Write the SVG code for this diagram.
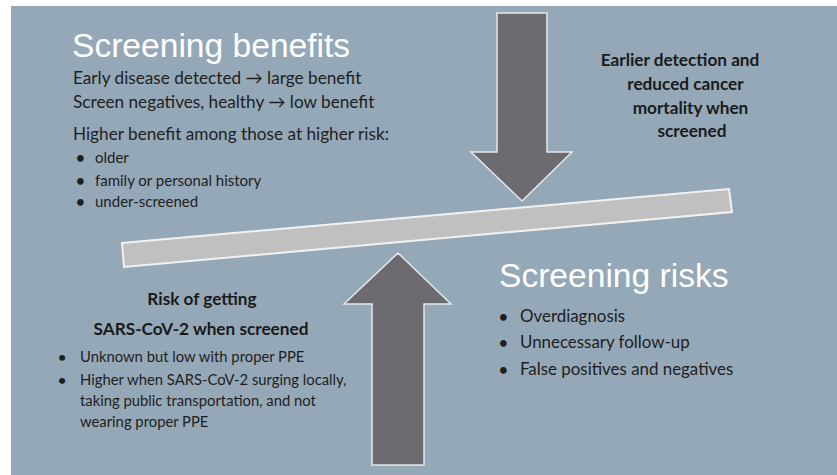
<svg xmlns="http://www.w3.org/2000/svg" width="837" height="475" viewBox="0 0 837 475">
  <style>
    .title { font-family: "Liberation Sans", Arial, sans-serif; font-size: 33.6px; fill: #ffffff; }
    .body { font-family: Lato, "Open Sans", sans-serif; fill: #1e1e1e; }
    .bold { font-family: Lato, "Open Sans", sans-serif; font-weight: bold; fill: #1a1a1a; font-size: 17.2px; text-anchor: middle; }
    .arrow { fill: #6b6b70; stroke: #e6e8ea; stroke-width: 1.5; stroke-linejoin: miter; }
    .beam { fill: #c0c0c0; stroke: #f2f2f2; stroke-width: 2; }
  </style>
  <rect x="0" y="0" width="837" height="475" fill="#ffffff"/>
  <rect id="background" x="11" y="6" width="826" height="469" fill="#95a8b7"/>

  <g id="beam">
    <polygon class="beam" points="122,243 729,189 732,212 124,267"/>
  </g>

  <g id="connectors">
    <polygon id="arrow-down" class="arrow" points="497,13 547,13 547,152 572,152 522,201 471,152 497,152"/>
    <polygon id="arrow-up" class="arrow" points="398,253 451,304 424,304 424,465 372,465 372,304 344,304"/>
  </g>

  <g id="benefits">
    <text class="title" x="72" y="57">Screening benefits</text>
    <text class="body" font-size="17.2" x="73" y="84">Early disease detected → large benefit</text>
    <text class="body" font-size="17.2" x="73" y="108">Screen negatives, healthy → low benefit</text>
    <text class="body" font-size="17.2" x="73" y="140">Higher benefit among those at higher risk:</text>
    <text class="body" font-size="15" font-weight="bold" x="76" y="163">•</text>
    <text class="body" font-size="15" x="95" y="163">older</text>
    <text class="body" font-size="15" font-weight="bold" x="76" y="186">•</text>
    <text class="body" font-size="15" x="95" y="186">family or personal history</text>
    <text class="body" font-size="15" font-weight="bold" x="76" y="207">•</text>
    <text class="body" font-size="15" x="95" y="207">under-screened</text>
  </g>

  <g id="benefit-label">
    <text class="bold" x="680" y="66">Earlier detection and</text>
    <text class="bold" x="685.5" y="90">reduced cancer</text>
    <text class="bold" x="690.5" y="114">mortality when</text>
    <text class="bold" x="692" y="137">screened</text>
  </g>

  <g id="risk-label">
    <text class="bold" x="202" y="305">Risk of getting</text>
    <text class="bold" font-size="16.8" x="201" y="335">SARS-CoV-2 when screened</text>
    <text class="body" font-size="14" font-weight="bold" x="58" y="362">•</text>
    <text class="body" font-size="14.8" x="80" y="362">Unknown but low with proper PPE</text>
    <text class="body" font-size="14" font-weight="bold" x="58" y="385">•</text>
    <text class="body" font-size="14.8" x="80" y="385">Higher when SARS-CoV-2 surging locally,</text>
    <text class="body" font-size="14.8" x="80" y="406">taking public transportation, and not</text>
    <text class="body" font-size="14.8" x="80" y="427">wearing proper PPE</text>
  </g>

  <g id="risks">
    <text class="title" x="499" y="287">Screening risks</text>
    <text class="body" font-size="15" font-weight="bold" x="499" y="322">•</text>
    <text class="body" font-size="16.9" x="520" y="322">Overdiagnosis</text>
    <text class="body" font-size="15" font-weight="bold" x="499" y="348">•</text>
    <text class="body" font-size="16.9" x="520" y="348">Unnecessary follow-up</text>
    <text class="body" font-size="15" font-weight="bold" x="499" y="375">•</text>
    <text class="body" font-size="16.9" x="520" y="375">False positives and negatives</text>
  </g>
</svg>
